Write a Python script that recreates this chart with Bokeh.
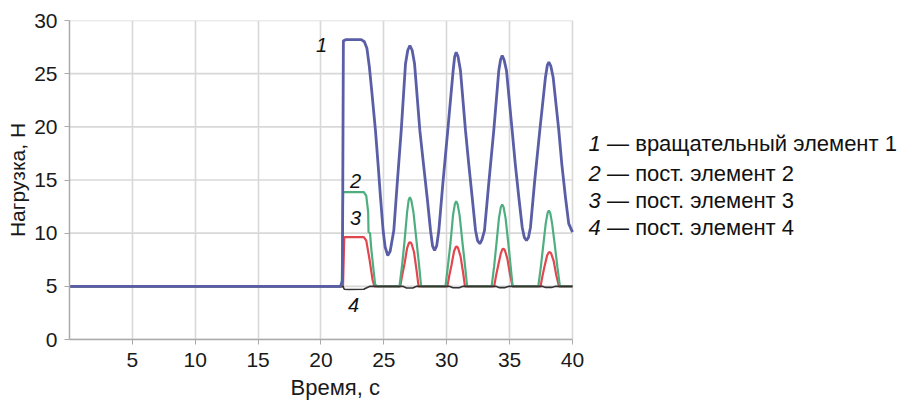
from bokeh.plotting import figure
from bokeh.models import Range1d, FixedTicker, Label, Title
from bokeh.embed import file_html
from bokeh.resources import INLINE

# Series 1 — вращательный элемент 1 (blue)
t1 = [0, 21.55, 21.7, 21.78, 22.0, 23.2, 23.45, 23.65, 23.85, 24.05, 24.33, 24.55, 24.73, 24.94,
      25.1, 25.31, 25.5, 25.79, 26.05, 26.38, 26.72, 26.9, 27.07, 27.25, 27.44, 27.86, 28.15,
      28.44, 28.71, 28.87, 29.03, 29.2, 29.37, 29.7, 30.08, 30.51, 30.63, 30.75, 30.9, 31.09,
      31.49, 31.75, 32.02, 32.29, 32.45, 32.63, 32.8, 33.0, 33.35, 33.74, 34.14, 34.28, 34.41,
      34.56, 34.75, 35.2, 35.45, 35.73, 36.0, 36.17, 36.34, 36.5, 36.66, 37.0, 37.4, 37.85,
      38.0, 38.12, 38.28, 38.46, 38.91, 39.15, 39.44, 39.7, 40.0]
y1 = [5, 5, 5.5, 28.1, 28.2, 28.2, 28.0, 27.4, 25.6, 23.2, 19.66, 16.3, 13.38, 10.25,
      8.7, 7.9, 8.3, 10.25, 14.5, 19.66, 25.93, 27.2, 27.65, 27.2, 25.93, 19.66, 16.5,
      13.38, 10.25, 8.8, 8.37, 8.8, 10.25, 14.8, 19.66, 25.3, 26.6, 27.02, 26.6, 25.3,
      19.66, 16.5, 13.38, 10.25, 9.3, 9.0, 9.4, 10.25, 14.8, 19.66, 25.3, 26.3, 26.71,
      26.3, 25.3, 19.66, 16.5, 13.38, 10.56, 9.6, 9.31, 9.6, 10.56, 15.0, 19.66, 24.67,
      25.8, 26.08, 25.7, 24.67, 19.66, 16.5, 13.38, 10.9, 10.1]

# Series 2 — пост. элемент 2 (green)
t2 = [0, 21.65, 21.76, 23.41, 23.6, 23.75, 23.78, 23.9, 24.0, 24.3, 24.45,
      26.24, 26.45, 26.64, 26.85, 26.97, 27.07, 27.18, 27.35, 27.6, 27.8, 27.96,
      29.9, 30.1, 30.3, 30.5, 30.65, 30.75, 30.86, 31.02, 31.25, 31.45, 31.62,
      33.57, 33.77, 33.95, 34.15, 34.3, 34.41, 34.52, 34.68, 34.9, 35.08, 35.24,
      37.28, 37.48, 37.67, 37.87, 38.02, 38.12, 38.23, 38.38, 38.6, 38.8, 39.0, 40.0]
y2 = [5, 5, 13.86, 13.86, 13.5, 12.0, 10.1, 10.0, 8.5, 5.2, 5,
      5, 7.0, 9.2, 12.0, 13.1, 13.38, 13.1, 12.0, 9.2, 7.0, 5,
      5, 7.0, 9.1, 11.7, 12.75, 13.0, 12.75, 11.7, 9.1, 7.0, 5,
      5, 6.9, 9.0, 11.4, 12.45, 12.7, 12.45, 11.4, 9.0, 6.9, 5,
      5, 6.8, 8.8, 10.9, 11.9, 12.13, 11.9, 10.9, 8.8, 6.8, 5, 5]

# Series 3 — пост. элемент 3 (red)
t3 = [0, 21.75, 21.85, 23.41, 23.6, 23.85, 24.1, 24.25,
      26.3, 26.45, 26.64, 26.85, 27.0, 27.1, 27.2, 27.4, 27.6, 27.76,
      30.05, 30.2, 30.38, 30.58, 30.72, 30.8, 30.9, 31.1, 31.3, 31.45,
      33.77, 33.92, 34.1, 34.3, 34.43, 34.52, 34.62, 34.82, 35.02, 35.23,
      37.46, 37.6, 37.78, 37.98, 38.12, 38.2, 38.3, 38.5, 38.7, 38.92, 40.0]
y3 = [5, 5, 9.62, 9.62, 9.3, 7.6, 5.6, 5,
      5, 6.0, 7.1, 8.6, 9.1, 9.15, 9.0, 8.2, 6.5, 5,
      5, 6.0, 7.0, 8.3, 8.7, 8.75, 8.6, 7.8, 6.3, 5,
      5, 6.0, 7.0, 8.1, 8.5, 8.53, 8.4, 7.6, 6.2, 5,
      5, 5.9, 6.9, 7.9, 8.2, 8.21, 8.1, 7.4, 6.1, 5, 5]

# Series 4 — пост. элемент 4 (black)
t4 = [0, 21.75, 21.85, 22.2, 23.4, 23.6, 23.9,
      26.5, 26.8, 27.3, 27.6, 30.2, 30.5, 31.0, 31.3,
      33.9, 34.15, 34.65, 34.95, 37.6, 37.85, 38.35, 38.65, 40.0]
y4 = [5, 5, 4.72, 4.7, 4.72, 4.85, 5,
      5, 4.85, 4.85, 5, 5, 4.87, 4.87, 5,
      5, 4.88, 4.88, 5, 5, 4.9, 4.9, 5, 5]

x_ticks = [5, 10, 15, 20, 25, 30, 35, 40]
y_ticks = [0, 5, 10, 15, 20, 25, 30]
x_max = 40

legend_nums = ["1", "2", "3", "4"]
legend_texts = ["— вращательный элемент 1", "— пост. элемент 2",
                "— пост. элемент 3", "— пост. элемент 4"]

FONT = "Liberation Sans"

# x range extended to the right so the legend text sits inside the frame;
# axis and grid are limited to 0..40.
p = figure(width=910, height=403, output_backend="svg", toolbar_location=None,
           x_range=Range1d(0, 66.72), y_range=Range1d(0, 30),
           min_border_left=69, min_border_top=20, min_border_right=2,
           min_border_bottom=64)
p.outline_line_color = None
p.background_fill_color = "white"

# horizontal grid lines limited to the data area
p.segment(x0=[0] * len(y_ticks), x1=[x_max] * len(y_ticks), y0=y_ticks, y1=y_ticks,
          line_color="#d8d8d8", line_width=1.6)
p.ygrid.grid_line_color = None
p.xgrid.ticker = FixedTicker(ticks=x_ticks)
p.xgrid.grid_line_color = "#d8d8d8"
p.xgrid.grid_line_width = 1.6

p.line(t3, y3, line_color="#e2474f", line_width=2.2)
p.line(t2, y2, line_color="#4fae80", line_width=2.2)
p.line(t4, y4, line_color="#333333", line_width=1.6)
p.line(t1, y1, line_color="#5a5ea6", line_width=2.8)

for ax in (p.xaxis[0], p.yaxis[0]):
    ax.axis_line_color = "#aaaaaa"
    ax.axis_line_width = 1.5
    ax.major_tick_line_color = "#aaaaaa"
    ax.major_tick_out = 5
    ax.major_tick_in = 0
    ax.minor_tick_line_color = None
    ax.major_label_text_font = FONT
    ax.major_label_text_font_size = "21px"
    ax.major_label_text_color = "#1a1a1a"
    ax.axis_label_text_font = FONT
    ax.axis_label_text_font_size = "21px"
    ax.axis_label_text_font_style = "normal"
    ax.axis_label_text_color = "#1a1a1a"

p.xaxis[0].bounds = (0, x_max)
p.xaxis[0].ticker = FixedTicker(ticks=x_ticks)
p.yaxis[0].ticker = FixedTicker(ticks=y_ticks)
p.yaxis[0].axis_label = "Нагрузка, Н"
p.xaxis[0].major_label_standoff = 8
p.yaxis[0].major_label_standoff = 7
p.yaxis[0].axis_label_standoff = 2

# x-axis title placed under the 0..40 part of the axis
p.add_layout(Title(text="Время, с", align="left", offset=221,
                   text_font=FONT, text_font_size="22px", text_font_style="normal",
                   text_color="#1a1a1a", standoff=7), "below")

# Curve number labels
for txt, x, y in [("1", 20.04, 27.65), ("2", 22.74, 14.86), ("3", 22.74, 11.38), ("4", 22.58, 3.29)]:
    p.add_layout(Label(x=x, y=y, text=txt, text_font=FONT, text_font_size="20px",
                       text_font_style="italic", text_align="center",
                       text_baseline="middle", text_color="#111111"))

# Legend on the right
leg_y = [18.43, 15.61, 13.07, 10.53]
for num, txt, y in zip(legend_nums, legend_texts, leg_y):
    p.add_layout(Label(x=41.27, y=y, text=num, text_font=FONT, text_font_size="22px",
                       text_font_style="italic", text_align="left",
                       text_baseline="middle", text_color="#111111"))
    p.add_layout(Label(x=42.75, y=y, text=txt, text_font=FONT, text_font_size="22px",
                       text_align="left", text_baseline="middle", text_color="#111111"))

open("out.html", "w").write(file_html(p, INLINE))
